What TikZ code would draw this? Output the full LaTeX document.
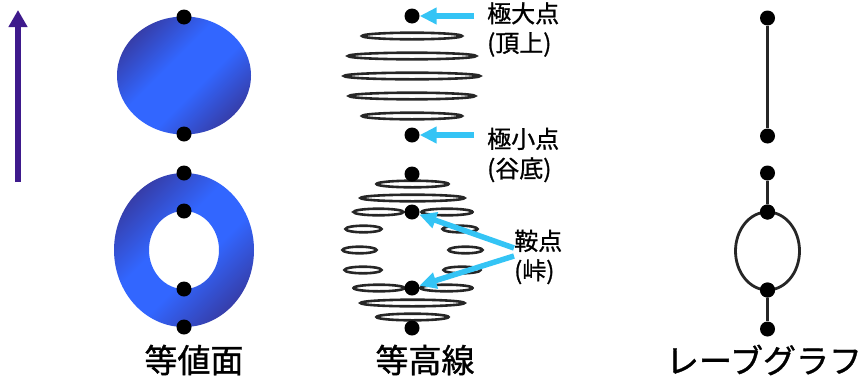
\documentclass[tikz,border=0pt]{standalone}
\usepackage{fontspec}
\setmainfont{Noto Sans CJK JP}[FakeBold=1.0]
\usetikzlibrary{arrows.meta}

\definecolor{surfdark}{RGB}{54,62,170}
\definecolor{surfbright}{RGB}{50,102,255}
\definecolor{pointer}{RGB}{52,196,245}
\definecolor{axisviolet}{RGB}{62,26,140}
\definecolor{ringgray}{RGB}{38,38,38}

% bright band with softly darkening rims, used along a diagonal
\pgfdeclareverticalshading{surfshade}{100bp}{%
  color(0bp)=(surfdark); color(25bp)=(surfdark); color(43bp)=(surfbright);
  color(57bp)=(surfbright); color(75bp)=(surfdark); color(100bp)=(surfdark)}

\tikzset{
  dot/.style={circle, fill=black, minimum size=15pt, inner sep=0pt},
  surface/.style={shading=surfshade, shading angle=45},
  ring/.style={draw=ringgray, line width=2.6pt},
  pointerarrow/.style={draw=pointer, line width=5.5pt, -{Triangle[length=17pt,width=16pt]}},
  graphedge/.style={draw=black!85, line width=2.8pt},
  smalllabel/.style={anchor=west, align=left, inner sep=0pt, font=\fontsize{24}{29.5}\selectfont},
  biglabel/.style={inner sep=0pt, font=\fontsize{33}{40}\selectfont}
}

\begin{document}
\begin{tikzpicture}[x=1pt, y=-1pt]
\useasboundingbox (0,0) rectangle (861,378);

% height axis
\coordinate (axbot) at (18,182);
\coordinate (axtop) at (18,10);
\draw[axisviolet, line width=6.5pt, -{Triangle[length=17pt,width=18pt]}] (axbot) -- (axtop);

% ---- iso-surfaces: sphere and torus
\shade[surface] (184,75.5) ellipse [x radius=67pt, y radius=59pt];
\shade[surface, even odd rule] (184,250) ellipse [x radius=70pt, y radius=77pt]
                                (184,250) ellipse [x radius=35pt, y radius=39pt];
\node[dot] (s1) at (184,17) {};
\node[dot] (s2) at (184,134) {};
\node[dot] (s3) at (184,173) {};
\node[dot] (s4) at (184,211) {};
\node[dot] (s5) at (184,289) {};
\node[dot] (s6) at (184,327) {};

% ---- contour lines, upper hill
\foreach \y/\r in {36/50, 56/64, 76/68, 96/63, 116/50}
  \draw[ring] (412,\y) ellipse [x radius=\r pt, y radius=3.3pt];
% ---- contour lines, lower ring-shaped hill
\foreach \x/\y/\r in {412.5/184/36, 412.5/198/52,
                      378.5/212/25, 447/212/25.5,
                      363.5/229/18, 460/229/17.5,
                      359.5/250/17, 465.5/250/17,
                      363/270/18.5, 462/270/18.5,
                      379/288/25.5, 446.5/288/26,
                      412.5/303/52, 412.5/317/36}
  \draw[ring] (\x,\y) ellipse [x radius=\r pt, y radius=3.3pt];
\node[dot] (c1) at (412,16) {};
\node[dot] (c2) at (412,135) {};
\node[dot] (c3) at (412,174) {};
\node[dot] (c4) at (412,212) {};
\node[dot] (c5) at (412,288) {};
\node[dot] (c6) at (412,328) {};

% labels and pointers
\node[smalllabel] (lmax) at (487,29.5) {極大点\\(頂上)};
\node[smalllabel] (lmin) at (487,155) {極小点\\(谷底)};
\node[smalllabel] (lsad) at (514,257) {鞍点\\(峠)};
\coordinate (pmax) at (474,16);
\coordinate (pmin) at (474,135);
\coordinate (psad1) at (514,248);
\coordinate (psad2) at (514,256);
\draw[pointerarrow] (pmax) -- (c1);
\draw[pointerarrow] (pmin) -- (c2);
\draw[pointerarrow] (psad1) -- (c4);
\draw[pointerarrow] (psad2) -- (c5);

% ---- Reeb graph
\node[dot] (r1) at (767.5,18) {};
\node[dot] (r2) at (767.5,136) {};
\node[dot] (r3) at (767.5,173) {};
\node[dot] (r4) at (767.5,212) {};
\node[dot] (r5) at (767.5,290) {};
\node[dot] (r6) at (767.5,329) {};
\draw[graphedge] (r1) -- (r2);
\draw[graphedge] (r3) -- (r4);
\draw[graphedge] (r5) -- (r6);
\draw[graphedge] (r4.center) arc[start angle=90, end angle=270, x radius=32pt, y radius=39pt];
\draw[graphedge] (r4.center) arc[start angle=90, end angle=-90, x radius=32pt, y radius=39pt];
\node[dot] at (r4) {};
\node[dot] at (r5) {};

% captions
\node[biglabel] (cap1) at (194,360) {等値面};
\node[biglabel] (cap2) at (425,360) {等高線};
\node[biglabel] (cap3) at (764,360) {レーブグラフ};
\end{tikzpicture}
\end{document}
